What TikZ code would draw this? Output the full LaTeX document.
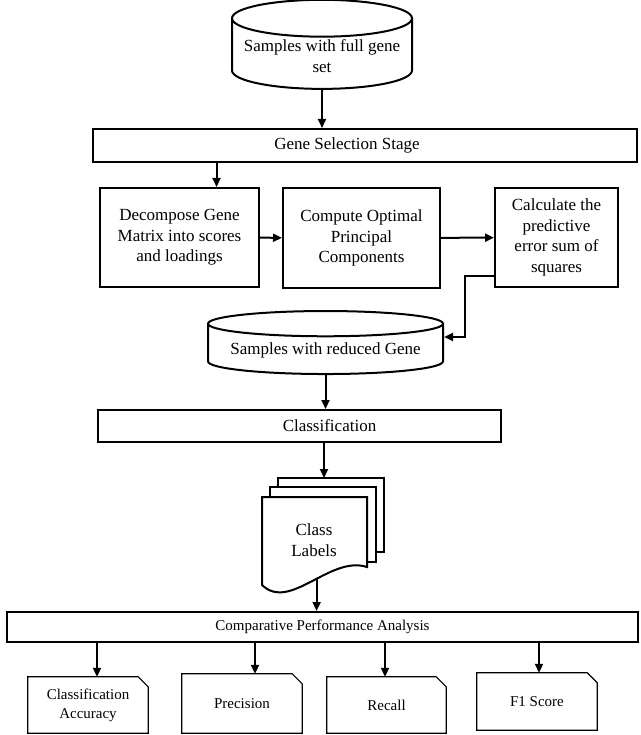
\documentclass[tikz,border=0pt]{standalone}
\usepackage{fontspec}
\setmainfont{Liberation Serif}
\usetikzlibrary{shapes.geometric}
\usetikzlibrary{positioning}
\usetikzlibrary{arrows.meta}

\tikzset{
  procbox/.style={draw, rectangle, line width=2pt, align=center, inner sep=2pt, font=\fontsize{17}{20.5}\selectfont},
  stagebar/.style={draw, rectangle, line width=2pt, inner sep=2pt, font=\fontsize{17}{20.5}\selectfont},
  datastore/.style={draw, cylinder, shape border rotate=90, line width=2pt, align=center, inner sep=2pt, font=\fontsize{17}{20.5}\selectfont},
  metric/.style={rectangle, align=center, inner sep=2pt, font=\fontsize{15}{19}\selectfont},
  flow/.style={-{Triangle[length=9pt,width=8pt]}, line width=2pt},
}

\begin{document}
\begin{tikzpicture}[x=1pt, y=-1pt]
\useasboundingbox (0,0) rectangle (640,735);

% data stores and stages
\node[datastore, aspect=0.23, minimum width=180, minimum height=84] (full) at (322,56) {Samples with full gene\\set};
\node[stagebar, minimum width=544, minimum height=33,
  label={[xshift=-18pt, font=\fontsize{17}{20.5}\selectfont]center:Gene Selection Stage}] (gene) at (365,145.5) {};
\node[procbox, minimum width=159, minimum height=99] (decomp) at (179.5,237.5) {Decompose Gene\\Matrix into scores\\and loadings};
\node[procbox, minimum width=157, minimum height=100] (pcs) at (361.5,238) {Compute Optimal\\Principal\\Components};
\node[procbox, minimum width=123, minimum height=99] (press) at (556.5,237.5) {Calculate the\\predictive\\error sum of\\squares};
\node[datastore, aspect=0.13, minimum width=235, minimum height=63] (reduced) at (325.5,350.5) {Samples with reduced Gene};
\node[stagebar, minimum width=403, minimum height=32,
  label={[xshift=30pt, font=\fontsize{17}{20.5}\selectfont]center:Classification}] (cls) at (299.5,426) {};

% stacked class label sheets
\draw[line width=2pt] (278,487) -- (278,478) -- (384,478) -- (384,552) -- (376,552);
\draw[line width=2pt] (270,497) -- (270,487) -- (376,487) -- (376,562) -- (367,562);
\draw[line width=2pt, fill=white] (262,497) -- (367,497) -- (367,567)
  .. controls (330,555) and (290,612) .. (262,585) coordinate[pos=0.45] (wv) -- cycle;
\coordinate (stacktop) at (324,478);
\node[align=center, font=\fontsize{17}{20.5}\selectfont] (labels) at (314,540) {Class\\Labels};

\node[stagebar, minimum width=631, minimum height=30, font=\fontsize{15}{19}\selectfont] (cpa) at (322.5,627) {Comparative Performance Analysis};

% metrics
\node[metric, minimum width=120, minimum height=56] (acc) at (88,705) {Classification\\Accuracy};
\node[metric, minimum width=120, minimum height=59] (prec) at (242,703.5) {Precision};
\node[metric, minimum width=119, minimum height=56] (rec) at (386.5,705) {Recall};
\node[metric, minimum width=120, minimum height=57] (f1) at (537,701.5) {F1 Score};
\foreach \m in {acc, prec, rec, f1}
  \draw[line width=1.2pt] (\m.south west) -- (\m.north west) -- ([xshift=-10]\m.north east)
    -- ([yshift=-10]\m.north east) -- (\m.south east) -- cycle;

% connectors
\coordinate (dtop) at ([xshift=37]decomp.north);
\draw[flow] (full.south) -- (full.south |- gene.north);
\draw[flow] (dtop |- gene.south) -- (dtop);
\draw[flow] (decomp) -- (pcs);
\draw[flow] (pcs) -- (press);
\draw[flow] ([yshift=-38.5]press.west) -- ++(-29,0) |- ([yshift=13.5]reduced.east);
\draw[flow] (reduced.south) -- (reduced.south |- cls.north);
\draw[flow] (stacktop |- cls.south) -- (stacktop);
\draw[flow] (wv) -- (wv |- cpa.north);
\foreach \m/\dx in {acc/9, prec/13, rec/-1.5, f1/2} {
  \coordinate (mt) at ([xshift=\dx]\m.north);
  \draw[flow] (mt |- cpa.south) -- (mt);
}
\end{tikzpicture}
\end{document}
